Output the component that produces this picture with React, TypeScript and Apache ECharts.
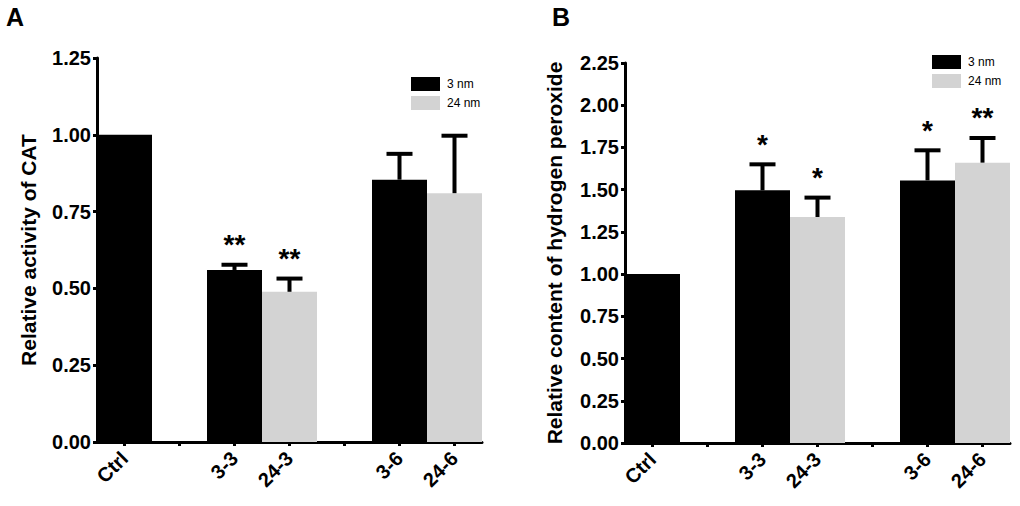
import React, { useEffect, useRef } from "react";
import * as echarts from "echarts";

const categories = ["Ctrl", "", "3-3", "24-3", "", "3-6", "24-6"];
const groups = ["3 nm", "", "3 nm", "24 nm", "", "3 nm", "24 nm"];

const catMean = [1.0, null, 0.56, 0.489, null, 0.854, 0.81];
const catErrTop = [null, null, 0.577, 0.532, null, 0.938, 0.997];
const catSig = ["", "", "**", "**", "", "", ""];

const h2o2Mean = [1.0, null, 1.496, 1.338, null, 1.555, 1.66];
const h2o2ErrTop = [null, null, 1.65, 1.453, null, 1.733, 1.806];
const h2o2Sig = ["", "", "*", "*", "", "*", "**"];

const FONT = "Liberation Sans, Arial, sans-serif";
const BLACK = "#000000";
const GRAY = "#d3d3d3";

function pick(means: (number | null)[], g: string) {
  return means.map((v, i) => (groups[i] === g && v != null ? v : "-"));
}

function errData(means: (number | null)[], tops: (number | null)[]) {
  const out: number[][] = [];
  means.forEach((m, i) => {
    if (m != null && tops[i] != null) out.push([i, m, tops[i] as number]);
  });
  return out;
}

function makeErrSeries(
  means: (number | null)[],
  tops: (number | null)[],
  sig: string[],
  idx: number
) {
  const data = errData(means, tops);
  return {
    type: "custom",
    xAxisIndex: idx,
    yAxisIndex: idx,
    z: 5,
    silent: true,
    data,
    renderItem: (params: any, api: any) => {
      const x = api.value(0);
      const base = api.coord([x, api.value(1)]);
      const top = api.coord([x, api.value(2)]);
      const s = sig[x] || "";
      const children: any[] = [
        {
          type: "line",
          shape: { x1: base[0], y1: base[1], x2: top[0], y2: top[1] },
          style: { stroke: BLACK, lineWidth: 4 },
        },
        {
          type: "line",
          shape: { x1: top[0] - 13, y1: top[1], x2: top[0] + 13, y2: top[1] },
          style: { stroke: BLACK, lineWidth: 4 },
        },
      ];
      if (s) {
        children.push({
          type: "text",
          x: top[0],
          y: top[1] - 20,
          style: {
            text: s,
            fontSize: 28,
            fontWeight: "bold",
            fontFamily: FONT,
            fill: BLACK,
            align: "center",
            verticalAlign: "middle",
          },
        });
      }
      return { type: "group", children };
    },
  };
}

function yAxis(idx: number, max: number, name: string, gap: number) {
  return {
    type: "value",
    gridIndex: idx,
    min: 0,
    max,
    interval: 0.25,
    name,
    nameLocation: "middle",
    nameGap: gap,
    nameTextStyle: { fontSize: 21, fontWeight: "bold", fontFamily: FONT, color: BLACK },
    splitLine: { show: false },
    axisLine: { show: true, lineStyle: { color: BLACK, width: 3 } },
    axisTick: { show: true, length: 4, lineStyle: { color: BLACK, width: 3 } },
    axisLabel: {
      fontSize: 20,
      fontWeight: "bold",
      fontFamily: FONT,
      color: BLACK,
      margin: 6,
      formatter: (v: number) => v.toFixed(2),
    },
  };
}

function xAxis(idx: number) {
  return {
    type: "category",
    gridIndex: idx,
    data: categories,
    axisLine: { show: true, onZero: false, lineStyle: { color: BLACK, width: 3 } },
    axisTick: {
      show: true,
      alignWithLabel: true,
      interval: 0,
      length: 4,
      lineStyle: { color: BLACK, width: 3 },
    },
    axisLabel: {
      interval: 0,
      rotate: 45,
      fontSize: 20,
      fontWeight: "bold",
      fontFamily: FONT,
      color: BLACK,
      margin: 13,
    },
  };
}

function legend(left: number, top: number) {
  return {
    left,
    top,
    orient: "vertical",
    icon: "rect",
    itemWidth: 29,
    itemHeight: 14,
    itemGap: 5,
    selectedMode: false,
    data: ["3 nm", "24 nm"],
    textStyle: { fontSize: 12, fontFamily: FONT, color: BLACK, padding: [0, 0, 0, 2] },
  };
}

export default function App() {
  const ref = useRef<HTMLDivElement>(null);
  useEffect(() => {
    if (!ref.current) return;
    const chart = echarts.init(ref.current, undefined, { renderer: "svg" });
    chart.setOption({
      animation: false,
      backgroundColor: "#ffffff",
      textStyle: { fontFamily: FONT },
      grid: [
        { left: 97, top: 58, width: 385, height: 384 },
        { left: 625, top: 63, width: 385, height: 380 },
      ],
      legend: [legend(406, 72), legend(927, 50)],
      xAxis: [xAxis(0), xAxis(1)],
      yAxis: [
        yAxis(0, 1.25, "Relative activity of CAT", 58),
        yAxis(1, 2.25, "Relative content of hydrogen peroxide", 60),
      ],
      graphic: [
        {
          type: "text",
          left: 6,
          top: 4,
          style: { text: "A", fontSize: 25, fontWeight: "bold", fontFamily: FONT, fill: BLACK },
        },
        {
          type: "text",
          left: 552,
          top: 4,
          style: { text: "B", fontSize: 25, fontWeight: "bold", fontFamily: FONT, fill: BLACK },
        },
      ],
      series: [
        {
          name: "3 nm",
          type: "bar",
          xAxisIndex: 0,
          yAxisIndex: 0,
          stack: "a",
          barCategoryGap: "0%",
          itemStyle: { color: BLACK },
          data: pick(catMean, "3 nm"),
        },
        {
          name: "24 nm",
          type: "bar",
          xAxisIndex: 0,
          yAxisIndex: 0,
          stack: "a",
          barCategoryGap: "0%",
          itemStyle: { color: GRAY },
          data: pick(catMean, "24 nm"),
        },
        makeErrSeries(catMean, catErrTop, catSig, 0),
        {
          name: "3 nm",
          type: "bar",
          xAxisIndex: 1,
          yAxisIndex: 1,
          stack: "b",
          barCategoryGap: "0%",
          itemStyle: { color: BLACK },
          data: pick(h2o2Mean, "3 nm"),
        },
        {
          name: "24 nm",
          type: "bar",
          xAxisIndex: 1,
          yAxisIndex: 1,
          stack: "b",
          barCategoryGap: "0%",
          itemStyle: { color: GRAY },
          data: pick(h2o2Mean, "24 nm"),
        },
        makeErrSeries(h2o2Mean, h2o2ErrTop, h2o2Sig, 1),
      ],
    });
    return () => chart.dispose();
  }, []);
  return (
    <div
      ref={ref}
      style={{ position: "fixed", left: 0, top: 0, width: 1020, height: 506, background: "#fff" }}
    />
  );
}
